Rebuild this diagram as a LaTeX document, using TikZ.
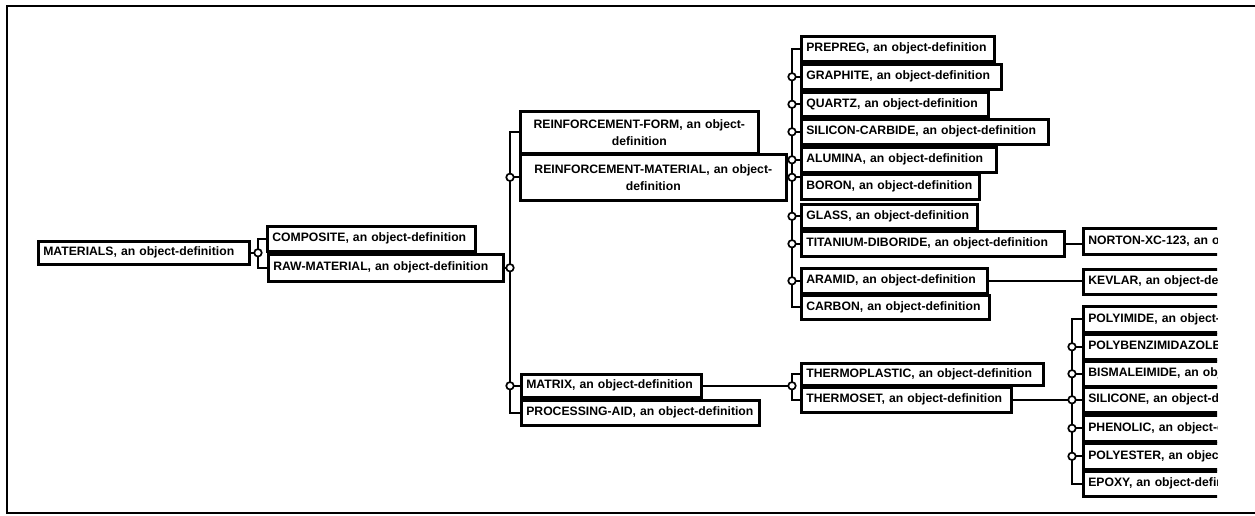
\documentclass[tikz,border=0pt]{standalone}
\usepackage{fontspec}
\setmainfont{Liberation Sans}
\tikzset{
  bx/.style={draw, line width=2.6pt, fill=white, inner xsep=5pt, inner ysep=0pt, align=left,
             font=\bfseries\fontsize{12.2}{17}\selectfont},
  ln/.style={line width=2pt},
  dot/.style={circle, draw, fill=white, line width=1.7pt, inner sep=0pt, minimum size=7.5pt},
}
\newcommand{\bx}[6]{%
  \pgfmathsetmacro\bw{#4-#2}\pgfmathsetmacro\bh{#5-#3}\pgfmathsetmacro\tw{#4-#2-10}%
  \node[bx,anchor=north west,minimum width=\bw pt,minimum height=\bh pt,text width=\tw pt] (#1) at (#2,#3) {\mbox{#6}};}
\begin{document}
\begin{tikzpicture}[x=1pt,y=-1pt]
\useasboundingbox (0,0) rectangle (1255,516);
\fill[white] (0,0) rectangle (1255,516);
\draw[line width=2.6pt] (1255,6) -- (7,6) -- (7,513) -- (1255,513);
\begin{scope}
\clip (0,0) rectangle (1217,516);
% level 1-2
\bx{mat}{37}{240}{248}{263}{MATERIALS, an object-definition}
\bx{comp}{266}{225}{474}{250}{COMPOSITE, an object-definition}
\bx{raw}{267}{253}{502}{280}{RAW-MATERIAL, an object-definition}
% level 3
\node[bx,anchor=north west,minimum width=238pt,minimum height=42pt,text width=228pt,align=center] (rf) at (519,110) {REINFORCEMENT-FORM, an object-\\definition};
\node[bx,anchor=north west,minimum width=266pt,minimum height=46pt,text width=256pt,align=center] (rm) at (519,153) {REINFORCEMENT-MATERIAL, an object-\\definition};
\bx{mx}{520}{373}{700}{396}{MATRIX, an object-definition}
\bx{pa}{520}{399}{758}{424}{PROCESSING-AID, an object-definition}
% level 4 (reinforcement material)
\bx{pp}{800}{35}{993}{60}{PREPREG, an object-definition}
\bx{gr}{800}{63}{1000}{88}{GRAPHITE, an object-definition}
\bx{qu}{800}{91}{987}{115}{QUARTZ, an object-definition}
\bx{sc}{800}{118}{1047}{143}{SILICON-CARBIDE, an object-definition}
\bx{al}{800}{146}{995}{171}{ALUMINA, an object-definition}
\bx{bo}{800}{173}{978}{198}{BORON, an object-definition}
\bx{gl}{800}{203}{976}{227}{GLASS, an object-definition}
\bx{ti}{800}{230}{1063}{255}{TITANIUM-DIBORIDE, an object-definition}
\bx{ar}{800}{267}{986}{292}{ARAMID, an object-definition}
\bx{ca}{800}{294}{988}{318}{CARBON, an object-definition}
% level 4 (matrix)
\bx{tp}{800}{362}{1042}{384}{THERMOPLASTIC, an object-definition}
\bx{ts}{800}{386}{1010}{411}{THERMOSET, an object-definition}
% level 5
\bx{no}{1082}{227}{1300}{253}{NORTON-XC-123, an object-definition}
\bx{kv}{1082}{268}{1300}{293}{KEVLAR, an object-definition}
\bx{pi}{1082}{305}{1300}{331}{POLYIMIDE, an object-definition}
\bx{pb}{1082}{333}{1300}{358}{POLYBENZIMIDAZOLE, an object-definition}
\bx{bm}{1082}{360}{1300}{385}{BISMALEIMIDE, an object-definition}
\bx{si}{1082}{386}{1300}{411}{SILICONE, an object-definition}
\bx{ph}{1082}{414}{1300}{440}{PHENOLIC, an object-definition}
\bx{pe}{1082}{442}{1300}{468}{POLYESTER, an object-definition}
\bx{ep}{1082}{470}{1300}{495}{EPOXY, an object-definition}
% buses
\draw[ln] (comp.west) -- ++(-8,0) |- (raw.west);
\draw[ln] (rf.west) -- ++(-9,0) |- (pa.west);
\draw[ln] (pp.west) -- ++(-8,0) |- (ca.west);
\draw[ln] (tp.west) -- ++(-8,0) |- (ts.west);
\draw[ln] (pi.west) -- ++(-10,0) |- (ep.west);
% dots
\coordinate (b1) at ([xshift=-8pt]comp.west);
\coordinate (b2) at ([xshift=-9pt]rf.west);
\coordinate (b3) at ([xshift=-8pt]pp.west);
\coordinate (b4) at ([xshift=-8pt]tp.west);
\coordinate (b5) at ([xshift=-10pt]pi.west);
\draw[ln] (mat.east) -- (mat.east -| b1) node[dot] {};
\draw[ln] (raw.east) -- (raw.east -| b2) node[dot] {};
\draw[ln] (rm.west) -- (rm.west -| b2) node[dot] {};
\draw[ln] (mx.west) -- (mx.west -| b2) node[dot] {};
\draw[ln] (rm.east) -- (rm.east -| b3) coordinate (pr) -- (pr -| bo.west);
\node[dot] at (pr) {};
\foreach \n in {gr,qu,sc,al,gl,ti,ar} \draw[ln] (\n.west) -- (\n.west -| b3) node[dot] {};
\draw[ln] (mx.east) -- (mx.east -| b4) node[dot] {};
\draw[ln] (ti.east) -- (ti.east -| no.west);
\draw[ln] (ar.east) -- (ar.east -| kv.west);
\draw[ln] (ts.east) -- (ts.east -| b5);
\foreach \n in {pb,bm,si,ph,pe} \draw[ln] (\n.west) -- (\n.west -| b5) node[dot] {};
\end{scope}
\end{tikzpicture}
\end{document}
